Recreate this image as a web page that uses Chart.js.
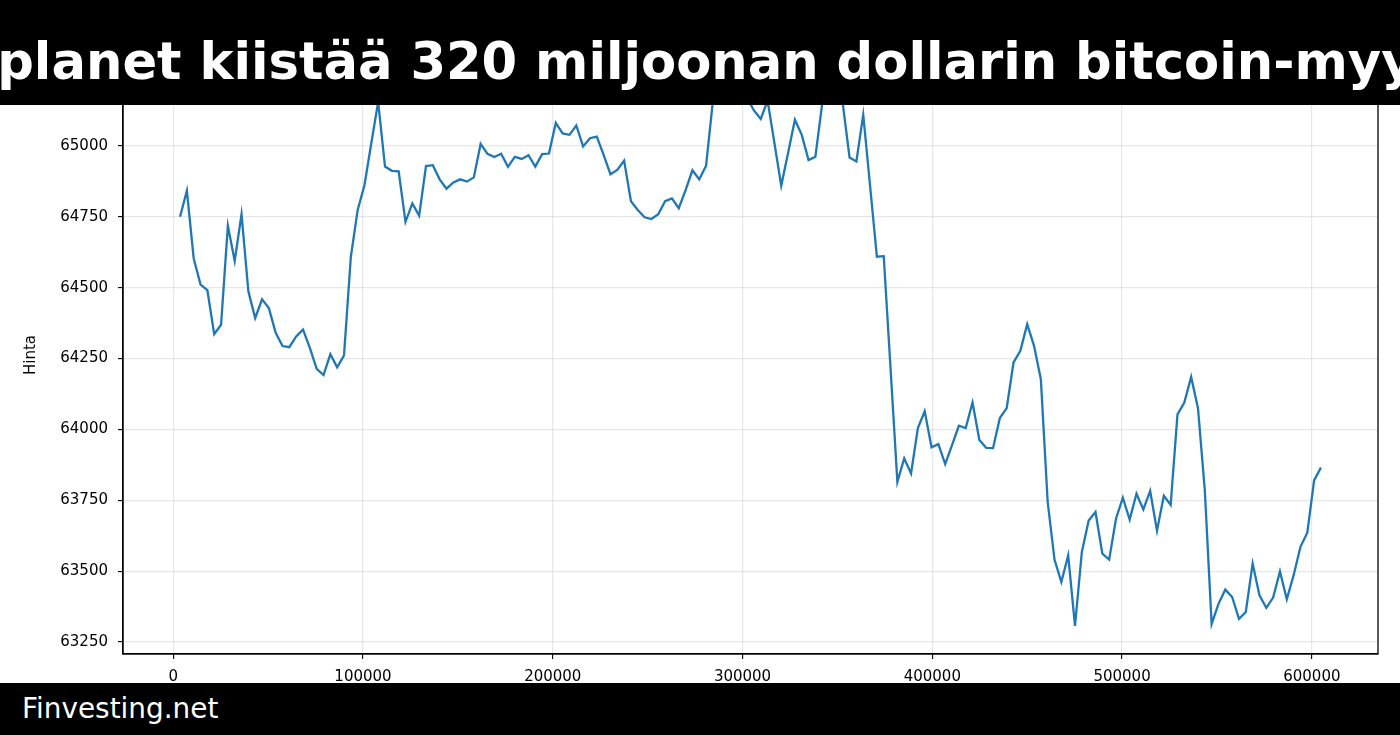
<!DOCTYPE html>
<html>
<head>
<meta charset="utf-8">
<script src="https://cdn.jsdelivr.net/npm/chart.js@4/dist/chart.umd.min.js"></script>
<style>
    html, body { margin: 0; padding: 0; background: #fff; }
    #wrap { position: relative; width: 1400px; height: 735px; overflow: hidden; }
    #chart { position: absolute; left: 0; top: 0; }
    #banner {
        position: absolute; left: 0; top: 0; width: 1400px; height: 105px;
        background: #000; overflow: hidden;
    }
    #banner span {
        position: absolute; left: 697px; top: 31px; transform: translateX(-50%);
        white-space: nowrap; color: #fff; line-height: 1;
        font: bold 51.2px 'DejaVu Sans', sans-serif;
    }
    #footer {
        position: absolute; left: 0; top: 683px; width: 1400px; height: 52px;
        background: #000;
    }
    #footer span {
        position: absolute; left: 22px; top: 9px; line-height: 1;
        color: #fff; font: 27.9px 'DejaVu Sans', sans-serif; white-space: nowrap;
    }
</style>
</head>
<body>
<div id="wrap">
    <canvas id="chart" width="1400" height="735"></canvas>
    <div id="banner"><span>Metaplanet kiistää 320 miljoonan dollarin bitcoin-myynnin</span></div>
    <div id="footer"><span>Finvesting.net</span></div>
</div>
<script>
// seconds since start, one point per hour
const seconds = [
    3600, 7200, 10800, 14400, 18000, 21600, 25200, 28800, 32400, 36000, 39600, 43200,
    46800, 50400, 54000, 57600, 61200, 64800, 68400, 72000, 75600, 79200, 82800, 86400,
    90000, 93600, 97200, 100800, 104400, 108000, 111600, 115200, 118800, 122400, 126000, 129600,
    133200, 136800, 140400, 144000, 147600, 151200, 154800, 158400, 162000, 165600, 169200, 172800,
    176400, 180000, 183600, 187200, 190800, 194400, 198000, 201600, 205200, 208800, 212400, 216000,
    219600, 223200, 226800, 230400, 234000, 237600, 241200, 244800, 248400, 252000, 255600, 259200,
    262800, 266400, 270000, 273600, 277200, 280800, 284400, 288000, 291600, 295200, 298800, 302400,
    306000, 309600, 313200, 316800, 320400, 324000, 327600, 331200, 334800, 338400, 342000, 345600,
    349200, 352800, 356400, 360000, 363600, 367200, 370800, 374400, 378000, 381600, 385200, 388800,
    392400, 396000, 399600, 403200, 406800, 410400, 414000, 417600, 421200, 424800, 428400, 432000,
    435600, 439200, 442800, 446400, 450000, 453600, 457200, 460800, 464400, 468000, 471600, 475200,
    478800, 482400, 486000, 489600, 493200, 496800, 500400, 504000, 507600, 511200, 514800, 518400,
    522000, 525600, 529200, 532800, 536400, 540000, 543600, 547200, 550800, 554400, 558000, 561600,
    565200, 568800, 572400, 576000, 579600, 583200, 586800, 590400, 594000, 597600, 601200, 604800
];

const prices = [
    64750, 64842, 64603, 64511, 64491, 64336, 64369, 64718, 64594, 64759, 64487, 64393,
    64459, 64428, 64341, 64294, 64290, 64328, 64352, 64288, 64214, 64192, 64265, 64219,
    64261, 64609, 64774, 64862, 65010, 65155, 64927, 64912, 64910, 64732, 64797, 64754,
    64929, 64932, 64882, 64849, 64871, 64882, 64874, 64889, 65007, 64972, 64961, 64972,
    64926, 64961, 64954, 64967, 64927, 64971, 64973, 65081, 65044, 65039, 65072, 64998,
    65027, 65033, 64968, 64900, 64915, 64948, 64805, 64774, 64748, 64742, 64759, 64805,
    64815, 64780, 64844, 64914, 64882, 64930, 65160, 65190, 65210, 65220, 65200, 65170,
    65125, 65095, 65160, 65010, 64860, 64975, 65092, 65039, 64950, 64962, 65150, 65200,
    65190, 65150, 64959, 64945, 65110, 64860, 64609, 64611, 64215, 63815, 63898, 63845,
    64005, 64064, 63937, 63948, 63878, 63945, 64013, 64005, 64095, 63963, 63935, 63934,
    64040, 64075, 64236, 64277, 64371, 64295, 64177, 63744, 63541, 63462, 63556, 63307,
    63568, 63679, 63709, 63562, 63541, 63685, 63759, 63682, 63773, 63718, 63783, 63643,
    63766, 63734, 64053, 64095, 64185, 64075, 63785, 63314, 63385, 63435, 63409, 63332,
    63356, 63527, 63415, 63371, 63407, 63499, 63401, 63486, 63586, 63636, 63820, 63866
];

const xTicks = [0, 100000, 200000, 300000, 400000, 500000, 600000];
const yTicks = [63250, 63500, 63750, 64000, 64250, 64500, 64750, 65000, 65250];

const tickFont = { family: "'DejaVu Sans', sans-serif", size: 15 };

// matplotlib-style full frame around the plot area
const frameBox = {
    id: 'frameBox',
    afterDraw(chart) {
        const a = chart.chartArea;
        const c = chart.ctx;
        c.save();
        c.strokeStyle = '#000';
        c.lineWidth = 1.3;
        c.strokeRect(a.left, a.top, a.right - a.left, a.bottom - a.top);
        c.restore();
    }
};

function createPriceChart(ctx) {
    if (!ctx) return;
    const points = seconds.map((s, i) => ({ x: s, y: prices[i] }));

    new Chart(ctx, {
        type: 'line',
        data: {
            datasets: [{
                label: 'Hinta',
                data: points,
                borderColor: '#1f77b4',
                borderWidth: 2.3,
                pointRadius: 0,
                tension: 0,
                fill: false
            }]
        },
        options: {
            responsive: false,
            animation: false,
            devicePixelRatio: 1,
            layout: {
                padding: { left: 0, right: 22, top: 56, bottom: 41 }
            },
            plugins: {
                legend: { display: false },
                tooltip: { enabled: false }
            },
            scales: {
                x: {
                    type: 'linear',
                    min: -26460,
                    max: 634860,
                    afterBuildTicks: function(scale) {
                        scale.ticks = xTicks.map(v => ({ value: v }));
                    },
                    afterFit: function(scale) {
                        scale.height = 40;
                    },
                    ticks: {
                        color: '#000',
                        font: tickFont,
                        padding: 9,
                        maxRotation: 0,
                        autoSkip: false,
                        callback: function(value) {
                            return String(value);
                        }
                    },
                    grid: {
                        color: 'rgba(176, 176, 176, 0.3)',
                        lineWidth: 1.2,
                        tickColor: '#000',
                        tickLength: 5,
                        tickWidth: 1.1
                    },
                    border: { color: '#000', width: 1.3 }
                },
                y: {
                    type: 'linear',
                    min: 63208,
                    max: 65317,
                    afterBuildTicks: function(scale) {
                        scale.ticks = yTicks.map(v => ({ value: v }));
                    },
                    afterFit: function(scale) {
                        scale.width = 123;
                    },
                    ticks: {
                        color: '#000',
                        font: tickFont,
                        padding: 10,
                        callback: function(value) {
                            return String(value);
                        }
                    },
                    grid: {
                        color: 'rgba(176, 176, 176, 0.3)',
                        lineWidth: 1.2,
                        tickColor: '#000',
                        tickLength: 5,
                        tickWidth: 1.1
                    },
                    border: { color: '#000', width: 1.3 },
                    title: {
                        display: true,
                        text: 'Hinta',
                        color: '#000',
                        font: tickFont,
                        padding: { top: 22, bottom: 0 }
                    }
                }
            }
        },
        plugins: [frameBox]
    });
}

createPriceChart(document.getElementById('chart'));
</script>
</body>
</html>
